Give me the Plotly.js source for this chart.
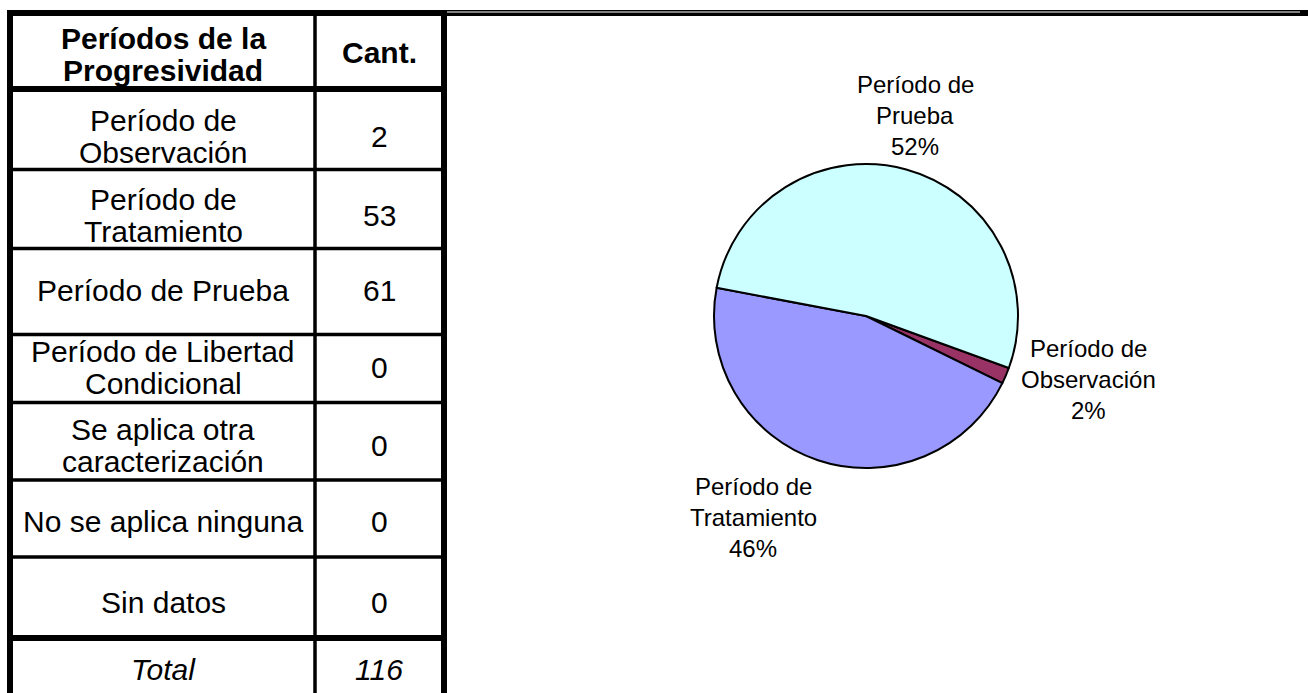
<!DOCTYPE html>
<html>
<head>
<meta charset="utf-8">
<script src="https://cdn.plot.ly/plotly-3.0.1.min.js"></script>
<style>html,body{margin:0;padding:0;background:#fff;}#chart{width:1308px;height:693px;}</style>
</head>
<body>
<div id="chart"></div>
<script>
// ---- data ----
const headerCategory = 'Períodos de la<br>Progresividad';
const headerCount = 'Cant.';
const totalLabel = 'Total';
const categories = [
  'Período de<br>Observación',
  'Período de<br>Tratamiento',
  'Período de Prueba',
  'Período de Libertad<br>Condicional',
  'Se aplica otra<br>caracterización',
  'No se aplica ninguna',
  'Sin datos'
];
const counts = [2, 53, 61, 0, 0, 0, 0];
const sliceColors = ['#993366', '#9999FF', '#CCFFFF'];

// ---- layout constants (pixels) ----
const W = 1308, H = 693;
const FONT = 'Liberation Sans, Arial, sans-serif';
const rowLines = [13, 89, 169.5, 248.5, 334.5, 402.5, 480, 557, 638, 700];
const rowLineWidths = [6, 6, 3.5, 3.5, 3.5, 3.5, 3.5, 3.5, 6];
const textCenters = [54, 136, 215, 290, 367, 445, 521, 602, 669];
const TABLE_FONT = 30, TABLE_LINE = 32;
const PIE_FONT = 24, PIE_LINE = 31;
const colX = {left: 10, mid: 315, right: 444};
const col1Center = 163, col2Center = 379;
const pieLabelPos = [[1088, 379], [753, 517], [915, 115]];

// ---- derived ----
const total = counts.reduce((a, b) => a + b, 0);
const pieIdx = counts.map((v, i) => i).filter(i => counts[i] > 0);
const pieVals = pieIdx.map(i => counts[i]);
const pieNames = pieIdx.map(i => categories[i].replace('<br>', ' ').replace('de ', 'de<br>'));

// percentages rounded so that they sum to 100 (largest remainder)
function roundedPercents(vals) {
  const s = vals.reduce((a, b) => a + b, 0);
  const raw = vals.map(v => v / s * 100);
  const fl = raw.map(Math.floor);
  let rest = 100 - fl.reduce((a, b) => a + b, 0);
  const order = raw.map((r, i) => [r - fl[i], i]).sort((a, b) => b[0] - a[0]);
  for (let k = 0; k < rest; k++) fl[order[k][1]] += 1;
  return fl;
}
const pct = roundedPercents(pieVals);

const shapes = [];
// top double line across page
shapes.push({type: 'line', xref: 'x', yref: 'y', x0: 7, x1: W, y0: rowLines[0], y1: rowLines[0], line: {color: 'black', width: 6}});
shapes.push({type: 'line', xref: 'x', yref: 'y', x0: 447, x1: 1300, y0: 12, y1: 12, line: {color: 'white', width: 1.2}});
// horizontal table lines
for (let k = 1; k < rowLines.length - 1; k++) {
  shapes.push({type: 'line', xref: 'x', yref: 'y', x0: 7, x1: 447, y0: rowLines[k], y1: rowLines[k], line: {color: 'black', width: rowLineWidths[k]}});
}
// vertical lines
shapes.push({type: 'line', xref: 'x', yref: 'y', x0: colX.left, x1: colX.left, y0: 10, y1: 700, line: {color: 'black', width: 6}});
shapes.push({type: 'line', xref: 'x', yref: 'y', x0: colX.mid, x1: colX.mid, y0: 10, y1: 700, line: {color: 'black', width: 3.5}});
shapes.push({type: 'line', xref: 'x', yref: 'y', x0: colX.right, x1: colX.right, y0: 10, y1: 700, line: {color: 'black', width: 6}});

const annotations = [];
// multi-line text drawn one line per annotation for tighter line spacing
function block(txt, x, yc, size, lineH, wrap) {
  const lines = txt.split('<br>');
  const n = lines.length;
  lines.forEach((ln, k) => {
    annotations.push({xref: 'x', yref: 'y', x: x, y: yc + (k - (n - 1) / 2) * lineH,
      text: wrap[0] + ln + wrap[1], showarrow: false,
      xanchor: 'center', yanchor: 'middle', align: 'center',
      font: {family: FONT, size: size, color: 'black'}});
  });
}
block(headerCategory, col1Center, textCenters[0], TABLE_FONT, TABLE_LINE, ['<b>', '</b>']);
block(headerCount, col2Center, textCenters[0] - 2, TABLE_FONT, TABLE_LINE, ['<b>', '</b>']);
categories.forEach((c, i) => {
  block(c, col1Center, textCenters[i + 1], TABLE_FONT, TABLE_LINE, ['', '']);
  block(String(counts[i]), col2Center, textCenters[i + 1], TABLE_FONT, TABLE_LINE, ['', '']);
});
block(totalLabel, col1Center, textCenters[8], TABLE_FONT, TABLE_LINE, ['<i>', '</i>']);
block(String(total), col2Center, textCenters[8], TABLE_FONT, TABLE_LINE, ['<i>', '</i>']);

// pie labels
pieIdx.forEach((idx, j) => {
  block(pieNames[j] + '<br>' + pct[j] + '%', pieLabelPos[j][0], pieLabelPos[j][1], PIE_FONT, PIE_LINE, ['', '']);
});

// pie geometry
const cx = 866, cy = 316, r = 152;
const pie = {
  type: 'pie',
  values: pieVals,
  labels: pieNames,
  sort: false,
  direction: 'clockwise',
  rotation: 110,
  textinfo: 'none',
  hoverinfo: 'label+value+percent',
  marker: {colors: sliceColors, line: {color: 'black', width: 2}},
  domain: {x: [(cx - r) / W, (cx + r) / W], y: [(H - cy - r) / H, (H - cy + r) / H]},
  showlegend: false
};
const dummy = {type: 'scatter', x: [], y: [], showlegend: false, hoverinfo: 'skip'};

const layout = {
  width: W, height: H,
  margin: {l: 0, r: 0, t: 0, b: 0},
  paper_bgcolor: 'white', plot_bgcolor: 'white',
  xaxis: {range: [0, W], visible: false, fixedrange: true},
  yaxis: {range: [H, 0], visible: false, fixedrange: true},
  shapes: shapes,
  annotations: annotations,
  showlegend: false
};
Plotly.newPlot('chart', [dummy, pie], layout, {displayModeBar: false, staticPlot: true});
</script>
</body>
</html>
